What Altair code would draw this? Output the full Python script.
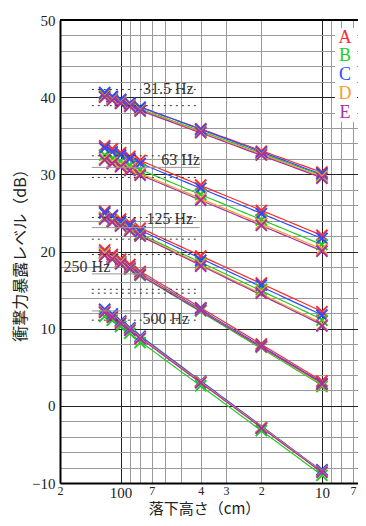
import altair as alt
import pandas as pd

# ---------------- data ----------------
heights = [120, 110, 100, 90, 80, 40, 20, 10]          # drop height (cm)
series_names = ["A", "B", "C", "D", "E"]
series_colors = ["#ff2a2a", "#22cc22", "#2a4dff", "#ff9a22", "#a332a3"]
freq_labels = ["31.5 Hz", "63 Hz", "125 Hz", "250 Hz", "500 Hz"]

lv_31_5 = {
    "A": [40.4, 40.0, 39.6, 39.2, 38.6, 35.9, 33.0, 30.3],
    "B": [40.2, 39.8, 39.4, 39.0, 38.4, 35.6, 32.7, 29.9],
    "C": [40.6, 40.1, 39.7, 39.2, 38.7, 35.8, 32.8, 30.1],
    "D": [40.1, 39.7, 39.3, 38.9, 38.3, 35.5, 32.6, 29.7],
    "E": [40.0, 39.6, 39.2, 38.8, 38.2, 35.4, 32.5, 29.5],
}
lv_63 = {
    "A": [33.7, 33.3, 32.8, 32.3, 31.8, 28.6, 25.3, 22.1],
    "B": [32.5, 32.1, 31.7, 31.2, 30.6, 27.4, 24.1, 20.9],
    "C": [33.4, 32.9, 32.5, 32.0, 31.4, 28.2, 24.9, 21.7],
    "D": [32.0, 31.6, 31.2, 30.7, 30.1, 26.9, 23.6, 20.3],
    "E": [31.85, 31.4, 31.0, 30.5, 29.9, 26.65, 23.4, 20.05],
}
lv_125 = {
    "A": [25.2, 24.7, 24.2, 23.7, 23.0, 19.4, 15.9, 12.2],
    "B": [24.4, 24.0, 23.5, 22.9, 22.2, 18.55, 15.1, 11.1],
    "C": [25.0, 24.6, 23.9, 23.4, 22.6, 18.85, 15.65, 11.75],
    "D": [24.3, 23.9, 23.4, 22.8, 22.1, 18.3, 14.8, 10.5],
    "E": [24.2, 23.8, 23.3, 22.7, 22.0, 18.1, 14.6, 10.35],
}
lv_250 = {
    "A": [20.2, 19.6, 19.0, 18.3, 17.4, 12.7, 8.0, 3.2],
    "B": [19.7, 19.0, 18.5, 17.7, 16.9, 12.3, 7.6, 2.5],
    "C": [19.9, 19.3, 18.7, 18.0, 17.2, 12.6, 7.8, 2.9],
    "D": [19.8, 19.2, 18.6, 17.9, 17.1, 12.4, 7.7, 2.7],
    "E": [19.5, 19.0, 18.4, 17.8, 17.0, 12.4, 7.7, 2.8],
}
lv_500 = {
    "A": [12.3, 11.7, 10.9, 10.0, 8.9, 3.1, -2.9, -8.4],
    "B": [11.6, 11.1, 10.3, 9.4, 8.2, 2.6, -3.2, -9.0],
    "C": [12.5, 11.9, 11.0, 10.1, 9.0, 3.2, -2.8, -8.3],
    "D": [12.2, 11.6, 10.8, 9.9, 8.8, 3.1, -2.8, -8.5],
    "E": [12.1, 11.5, 10.7, 9.8, 8.7, 3.0, -2.9, -8.6],
}

# frequency label annotations (cm, dB)
label_x = [58, 50.3, 57, 147, 59.7]
label_y = [41.1, 31.9, 24.2, 18.0, 11.2]
# dotted frame lines around the labels (dB)
dot_y = [41.0, 38.9, 32.4, 29.6, 24.4, 21.6, 19.6, 15.1, 14.6, 11.1]
# short solid gray lines of the label frames (dB, right end in cm)
solid_y = [30.9, 23.1, 17.1, 12.3]
solid_end = [40.5, 40.5, 79, 79]

x_grid_vals = [200, 100, 90, 80, 70, 60, 50, 40, 30, 20, 10, 9, 8, 7]
x_label_text = {200: "2", 100: "100", 70: "7", 40: "4", 30: "3", 20: "2", 10: "10", 7: "7"}

# ---------------- tables ----------------
rows = []
for f, table in zip(freq_labels, [lv_31_5, lv_63, lv_125, lv_250, lv_500]):
    for s in series_names:
        for h, v in zip(heights, table[s]):
            rows.append({"freq": f, "series": s, "h": h, "db": v})
df = pd.DataFrame(rows)

labels_df = pd.DataFrame({"text": freq_labels, "x": label_x, "y": label_y})
dots_df = pd.DataFrame({"y": dot_y, "x0": [139] * len(dot_y), "x1": [40.5] * len(dot_y)})
solid_df = pd.DataFrame({"y": solid_y, "x0": [139] * len(solid_y), "x1": solid_end})
legend_df = pd.DataFrame({"series": series_names})
one_df = pd.DataFrame({"k": [0]})

# ---------------- scales / axes ----------------
W, H = 298, 463
SERIF = "Liberation Serif"
JP = "Noto Sans CJK JP"

x_scale = alt.Scale(type="log", domain=[6.62, 200], reverse=True, nice=False)
y_scale = alt.Scale(domain=[-10, 50], nice=False)
color_scale = alt.Scale(domain=series_names, range=series_colors)

big = "datum.value == 100 || datum.value == 10"
label_expr = " : ".join(f"datum.value == {k} ? '{v}'" for k, v in x_label_text.items()) + " : ''"

x_axis = alt.Axis(
    values=x_grid_vals, labelExpr=label_expr,
    labelFont=SERIF, labelColor="#222",
    labelFontSize={"condition": {"test": big, "value": 15}, "value": 12},
    labelPadding=2,
    labelOverlap=False, labelFlush=False,
    ticks=False,
    grid=True, gridWidth=1,
    gridColor={"condition": {"test": big, "value": "#222"}, "value": "#9a9a9a"},
    domainColor="black", domainWidth=2,
    title="落下高さ（cm）", titleFont=JP, titleFontSize=15, titleFontWeight="normal",
    titleColor="#222", titleX=144, titleY=18,
)
y_axis = alt.Axis(
    values=list(range(-10, 52, 2)),
    labelExpr="datum.value % 10 === 0 ? datum.label : ''",
    labelFont=SERIF, labelFontSize=15, labelColor="#222", labelPadding=5,
    labelOverlap=False, ticks=False,
    grid=True, gridWidth=1,
    gridColor={"condition": {"test": "datum.value % 10 === 0", "value": "#222"}, "value": "#9a9a9a"},
    domainColor="black", domainWidth=2,
    title="衝撃力暴露レベル（dB）", titleFont=JP, titleFontSize=16, titleFontWeight="normal",
    titleColor="#222", titleX=-32, titleY=231,
)

color = alt.Color("series:N", scale=color_scale, legend=None)
X_MARK = "M-1,-1L1,1M1,-1L-1,1"

base = alt.Chart(df)

lines = base.transform_regression(
    "h", "db", groupby=["freq", "series"], method="log"
).mark_line(strokeWidth=1.2).encode(
    x=alt.X("h:Q", scale=x_scale, axis=x_axis),
    y=alt.Y("db:Q", scale=y_scale, axis=y_axis),
    color=color,
    detail="freq:N",
)

points = base.mark_point(shape=X_MARK, filled=False, size=125, strokeWidth=2, opacity=1).encode(
    x=alt.X("h:Q", scale=x_scale, axis=x_axis),
    y=alt.Y("db:Q", scale=y_scale, axis=y_axis),
    color=color,
)

dots = alt.Chart(dots_df).mark_rule(color="#333", strokeWidth=1, strokeDash=[2, 4]).encode(
    x=alt.X("x0:Q", scale=x_scale, axis=x_axis), x2="x1:Q",
    y=alt.Y("y:Q", scale=y_scale, axis=y_axis),
)
solids = alt.Chart(solid_df).mark_rule(color="#999", strokeWidth=1).encode(
    x=alt.X("x0:Q", scale=x_scale, axis=x_axis), x2="x1:Q",
    y=alt.Y("y:Q", scale=y_scale, axis=y_axis),
)
flabels = alt.Chart(labels_df).mark_text(
    font=SERIF, fontSize=16, color="#333", align="center", baseline="middle"
).encode(
    x=alt.X("x:Q", scale=x_scale, axis=x_axis),
    y=alt.Y("y:Q", scale=y_scale, axis=y_axis),
    text="text:N",
)

top_border = alt.Chart(one_df).mark_rule(color="black", strokeWidth=2).encode(
    x=alt.value(0), x2=alt.value(W), y=alt.value(0)
)

legend_box = alt.Chart(one_df).mark_rect(fill="white").encode(
    x=alt.value(275), x2=alt.value(297), y=alt.value(8), y2=alt.value(102)
)
legend_letters = []
for i, s in enumerate(series_names):
    legend_letters.append(
        alt.Chart(legend_df).transform_filter(f"datum.series == '{s}'").mark_text(
            font=SERIF, fontSize=18, baseline="middle", align="center"
        ).encode(
            x=alt.value(285), y=alt.value(17.5 + 18.75 * i),
            text="series:N", color=color,
        )
    )

chart = alt.layer(
    lines, points, dots, solids, flabels, top_border, legend_box, *legend_letters
).properties(
    width=W, height=H,
    autosize=alt.AutoSizeParams(type="none"),
    padding={"left": 52, "top": 12, "right": 0, "bottom": 35},
    background="white",
).configure_view(strokeWidth=0)

chart.save("out.html", embed_options={"renderer": "svg", "actions": False})
